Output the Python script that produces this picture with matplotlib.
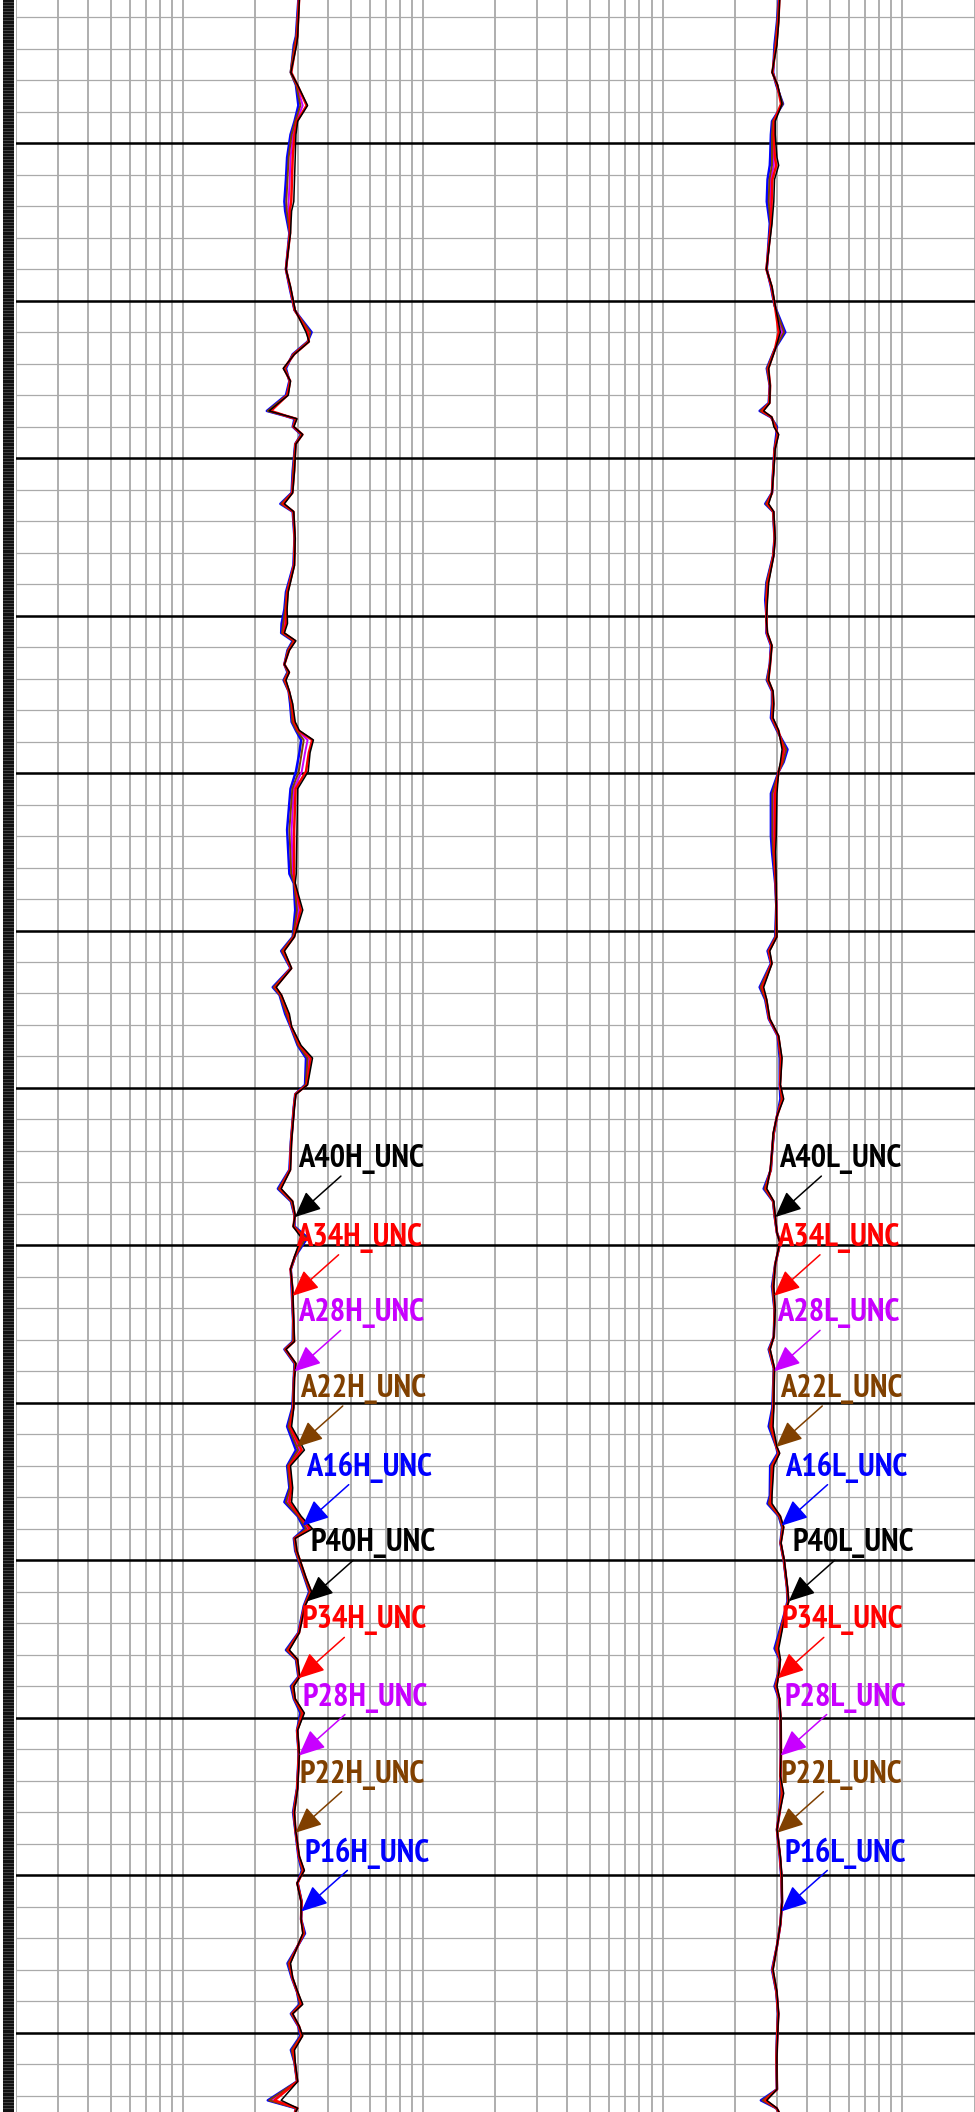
import numpy as np
import matplotlib.pyplot as plt
from matplotlib import font_manager as fm
from matplotlib.ticker import LogLocator, NullLocator

# Array induction resistivity (ohm.m) versus depth (m), two tracks: H and L
depth_h = [1490.9, 1493.2, 1493.75, 1495.5, 1496.3, 1497.6, 1498.6, 1499.45, 1500.9, 1502.3,
           1503.7, 1504.3, 1505.7, 1508.0, 1509.1, 1510.6, 1512.0, 1512.6, 1513.4, 1514.3,
           1515.1, 1516.0, 1517.0, 1517.3, 1517.5, 1518.0, 1518.5, 1519.1, 1520.8, 1522.2,
           1522.9, 1523.4, 1525.1, 1526.8, 1528.5, 1529.6, 1530.5, 1531.1, 1531.6, 1532.2,
           1533.1, 1533.6, 1534.1, 1534.8, 1535.6, 1536.75, 1537.3, 1537.9, 1538.7, 1539.9,
           1541.0, 1543.6, 1546.4, 1547.0, 1548.7, 1550.4, 1551.3, 1552.4, 1553.6, 1554.1,
           1555.3, 1556.1, 1557.3, 1558.1, 1559.8, 1560.4, 1561.2, 1563.4, 1565.2, 1566.4,
           1567.2, 1568.1, 1568.8, 1569.5, 1570.7, 1571.5, 1572.7, 1574.8, 1576.1, 1576.6,
           1577.5, 1578.4, 1580.3, 1581.5, 1583.0, 1584.0, 1585.4, 1586.3, 1587.2, 1588.0,
           1588.6, 1589.4, 1591.1, 1592.0, 1592.9, 1594.6, 1595.7, 1596.3, 1597.4, 1598.0,
           1598.8, 1599.7, 1600.8, 1602.3, 1604.5, 1606.0, 1607.1, 1608.8, 1609.7, 1610.5,
           1611.7, 1612.8, 1613.7, 1614.5, 1615.6, 1616.5, 1617.4, 1618.2, 1618.8, 1619.6,
           1620.2, 1621.1, 1621.9, 1623.1, 1624.3, 1624.8, 1625.0]

h40 = [3.05, 3.00, 2.97, 2.81, 3.00, 3.30, 3.00, 2.95, 2.93, 2.91,
       2.89, 2.83, 2.80, 2.68, 2.80, 2.93, 3.25, 3.35, 2.91, 2.61,
       2.80, 2.74, 2.28, 2.68, 2.98, 2.89, 3.15, 2.95, 2.91, 2.86,
       2.64, 2.89, 2.93, 2.91, 2.74, 2.71, 2.72, 2.64, 2.95, 2.77,
       2.64, 2.77, 2.68, 2.77, 2.86, 2.93, 3.05, 3.49, 3.38, 3.32,
       3.00, 2.98, 2.96, 2.93, 3.15, 2.91, 2.64, 2.83, 2.44, 2.57,
       2.77, 2.83, 3.10, 3.46, 3.30, 2.95, 2.91, 2.83, 2.80, 2.56,
       2.86, 2.93, 2.87, 3.10, 2.91, 2.80, 2.86, 2.89, 2.91, 2.68,
       2.95, 2.91, 2.89, 2.83, 3.20, 2.80, 2.86, 2.83, 3.10, 3.46,
       2.93, 2.98, 3.25, 3.43, 3.22, 3.05, 2.77, 3.00, 3.06, 2.89,
       2.93, 3.20, 3.00, 3.05, 3.00, 2.91, 2.94, 3.05, 3.20, 2.98,
       3.10, 3.10, 3.15, 3.00, 2.80, 2.86, 3.00, 3.15, 2.86, 3.05,
       3.15, 2.91, 2.93, 3.00, 2.56, 3.00, 2.95]
h34 = [3.04, 2.99, 2.95, 2.82, 2.99, 3.27, 2.98, 2.91, 2.86, 2.84,
       2.82, 2.78, 2.79, 2.68, 2.79, 2.92, 3.30, 3.34, 2.90, 2.63,
       2.79, 2.72, 2.32, 2.67, 2.96, 2.88, 3.14, 2.94, 2.90, 2.85,
       2.61, 2.88, 2.92, 2.90, 2.72, 2.69, 2.68, 2.62, 2.92, 2.76,
       2.64, 2.76, 2.66, 2.76, 2.84, 2.90, 3.02, 3.45, 3.34, 3.25,
       2.94, 2.90, 2.90, 2.92, 3.09, 2.90, 2.62, 2.82, 2.42, 2.56,
       2.74, 2.82, 3.07, 3.40, 3.28, 2.94, 2.90, 2.82, 2.79, 2.54,
       2.85, 2.92, 2.88, 3.16, 2.92, 2.80, 2.85, 2.88, 2.90, 2.67,
       2.94, 2.90, 2.88, 2.79, 3.12, 2.77, 2.83, 2.77, 3.07, 3.38,
       2.92, 2.97, 3.24, 3.41, 3.21, 3.04, 2.74, 2.99, 3.05, 2.87,
       2.92, 3.16, 2.99, 3.04, 2.99, 2.90, 2.94, 3.04, 3.18, 2.99,
       3.11, 3.10, 3.17, 3.00, 2.78, 2.85, 2.99, 3.12, 2.85, 3.04,
       3.13, 2.88, 2.92, 2.99, 2.40, 2.99, 2.94]
h28 = [3.03, 2.97, 2.93, 2.81, 2.97, 3.15, 2.96, 2.87, 2.80, 2.78,
       2.75, 2.74, 2.78, 2.68, 2.78, 2.92, 3.35, 3.32, 2.88, 2.65,
       2.78, 2.71, 2.27, 2.66, 2.94, 2.87, 3.12, 2.94, 2.88, 2.84,
       2.58, 2.87, 2.92, 2.89, 2.71, 2.67, 2.64, 2.60, 2.90, 2.74,
       2.64, 2.74, 2.65, 2.76, 2.82, 2.87, 3.00, 3.30, 3.22, 3.12,
       2.89, 2.83, 2.86, 2.91, 3.03, 2.88, 2.60, 2.81, 2.40, 2.54,
       2.71, 2.81, 3.05, 3.34, 3.26, 2.94, 2.90, 2.82, 2.78, 2.52,
       2.83, 2.92, 2.89, 3.21, 2.92, 2.81, 2.84, 2.88, 2.88, 2.66,
       2.93, 2.90, 2.87, 2.76, 3.06, 2.75, 2.81, 2.72, 3.05, 3.32,
       2.91, 2.95, 3.22, 3.39, 3.20, 3.03, 2.72, 2.97, 3.04, 2.85,
       2.91, 3.13, 2.99, 3.04, 2.99, 2.89, 2.93, 3.03, 3.16, 2.99,
       3.11, 3.10, 3.19, 3.00, 2.76, 2.84, 2.99, 3.10, 2.83, 3.03,
       3.11, 2.86, 2.92, 2.99, 2.32, 2.97, 2.94]
h22 = [3.03, 2.96, 2.91, 2.80, 2.96, 3.08, 2.93, 2.83, 2.75, 2.72,
       2.69, 2.70, 2.78, 2.68, 2.78, 2.91, 3.39, 3.31, 2.87, 2.66,
       2.78, 2.70, 2.25, 2.65, 2.93, 2.87, 3.11, 2.93, 2.87, 2.84,
       2.56, 2.87, 2.91, 2.89, 2.70, 2.66, 2.61, 2.58, 2.88, 2.73,
       2.64, 2.73, 2.63, 2.75, 2.81, 2.85, 2.97, 3.18, 3.12, 3.03,
       2.85, 2.77, 2.82, 2.90, 2.98, 2.87, 2.58, 2.81, 2.38, 2.53,
       2.69, 2.81, 3.02, 3.30, 3.24, 2.93, 2.89, 2.81, 2.78, 2.50,
       2.82, 2.91, 2.90, 3.25, 2.93, 2.81, 2.84, 2.87, 2.87, 2.65,
       2.92, 2.89, 2.86, 2.74, 3.01, 2.73, 2.79, 2.68, 3.02, 3.26,
       2.90, 2.94, 3.21, 3.37, 3.19, 3.03, 2.70, 2.96, 3.03, 2.83,
       2.90, 3.11, 2.98, 3.03, 2.98, 2.88, 2.93, 3.03, 3.14, 3.00,
       3.12, 3.10, 3.20, 3.00, 2.74, 2.84, 2.98, 3.07, 2.82, 3.03,
       3.10, 2.83, 2.91, 2.98, 2.28, 2.96, 2.93]
h16 = [3.02, 2.95, 2.89, 2.81, 2.95, 3.02, 2.91, 2.80, 2.71, 2.68,
       2.64, 2.66, 2.77, 2.68, 2.77, 2.91, 3.43, 3.30, 2.86, 2.68,
       2.77, 2.68, 2.23, 2.64, 2.91, 2.86, 3.10, 2.93, 2.86, 2.83,
       2.54, 2.86, 2.91, 2.88, 2.68, 2.64, 2.57, 2.56, 2.86, 2.72,
       2.64, 2.72, 2.62, 2.75, 2.79, 2.83, 2.95, 3.10, 3.05, 2.95,
       2.80, 2.71, 2.77, 2.89, 2.93, 2.86, 2.56, 2.80, 2.36, 2.52,
       2.66, 2.80, 3.00, 3.25, 3.22, 2.93, 2.89, 2.81, 2.77, 2.48,
       2.81, 2.91, 2.91, 3.30, 2.93, 2.81, 2.83, 2.87, 2.86, 2.64,
       2.91, 2.89, 2.85, 2.71, 2.95, 2.71, 2.77, 2.64, 3.00, 3.20,
       2.89, 2.93, 3.20, 3.35, 3.18, 3.02, 2.68, 2.95, 3.02, 2.81,
       2.89, 3.08, 2.98, 3.03, 2.98, 2.87, 2.93, 3.02, 3.12, 3.00,
       3.12, 3.10, 3.22, 3.00, 2.72, 2.83, 2.98, 3.05, 2.81, 3.02,
       3.08, 2.81, 2.91, 2.98, 2.25, 2.95, 2.93]

depth_l = [1490.9, 1492.3, 1493.75, 1495.5, 1496.3, 1497.5, 1498.6, 1499.45, 1500.9, 1501.4,
           1502.3, 1503.7, 1505.1, 1508.0, 1509.1, 1510.3, 1512.0, 1513.1, 1514.3, 1515.4,
           1516.5, 1517.0, 1517.4, 1518.0, 1518.5, 1519.4, 1520.8, 1522.2, 1522.9, 1523.4,
           1525.1, 1526.2, 1527.9, 1529.0, 1530.3, 1531.1, 1531.9, 1533.1, 1534.1, 1534.8,
           1535.6, 1536.5, 1537.3, 1538.5, 1539.3, 1539.9, 1541.3, 1544.0, 1545.0, 1547.0,
           1548.4, 1550.4, 1551.3, 1552.1, 1553.6, 1554.4, 1555.6, 1556.7, 1558.1, 1559.8,
           1560.7, 1561.8, 1562.9, 1564.1, 1565.2, 1566.4, 1567.2, 1568.1, 1569.2, 1569.8,
           1571.2, 1572.6, 1574.1, 1575.8, 1576.6, 1577.8, 1580.3, 1581.5, 1582.8, 1583.2,
           1584.0, 1585.9, 1586.4, 1587.2, 1587.9, 1588.9, 1590.0, 1591.7, 1592.6, 1593.4,
           1595.6, 1596.3, 1597.1, 1598.0, 1598.8, 1600.3, 1602.3, 1603.7, 1604.8, 1606.0,
           1607.1, 1608.8, 1610.2, 1611.7, 1613.1, 1614.5, 1616.0, 1617.4, 1618.8, 1620.2,
           1621.6, 1623.6, 1624.3, 1624.8, 1625.0]

l40 = [3.08, 3.05, 3.00, 2.86, 3.02, 3.15, 2.95, 2.95, 3.00, 3.05,
       2.93, 2.91, 2.86, 2.71, 2.86, 2.95, 3.10, 2.95, 2.77, 2.81,
       2.80, 2.64, 2.86, 2.91, 3.05, 2.95, 2.91, 2.86, 2.77, 2.91,
       2.95, 2.91, 2.77, 2.74, 2.71, 2.74, 2.86, 2.81, 2.77, 2.89,
       2.91, 2.89, 3.05, 3.15, 3.10, 3.05, 3.00, 2.98, 2.96, 2.98,
       2.98, 3.00, 2.80, 2.86, 2.64, 2.72, 2.80, 3.05, 3.15, 3.10,
       3.20, 3.00, 2.89, 2.86, 2.81, 2.72, 2.91, 2.95, 3.00, 3.08,
       2.95, 2.91, 2.95, 2.91, 2.81, 2.93, 2.91, 2.89, 3.00, 3.08,
       2.91, 2.86, 2.86, 3.10, 3.20, 3.12, 3.22, 3.32, 3.36, 3.25,
       3.05, 3.10, 3.06, 3.00, 3.08, 3.12, 3.12, 3.10, 3.20, 3.08,
       3.00, 3.10, 3.15, 3.15, 3.10, 3.00, 2.89, 3.00, 3.05, 3.02,
       3.00, 3.00, 2.72, 3.00, 3.05]
l34 = [3.07, 3.04, 2.98, 2.87, 3.01, 3.12, 2.92, 2.91, 2.94, 2.98,
       2.87, 2.85, 2.84, 2.71, 2.85, 2.94, 3.05, 2.94, 2.76, 2.81,
       2.79, 2.61, 2.85, 2.94, 3.03, 2.94, 2.90, 2.86, 2.74, 2.90,
       2.94, 2.90, 2.75, 2.72, 2.71, 2.73, 2.85, 2.81, 2.76, 2.88,
       2.90, 2.87, 3.04, 3.20, 3.13, 3.05, 2.95, 2.94, 2.93, 2.97,
       2.98, 2.99, 2.78, 2.85, 2.61, 2.71, 2.79, 3.04, 3.13, 3.09,
       3.17, 3.00, 2.90, 2.86, 2.82, 2.70, 2.90, 2.94, 3.00, 3.09,
       2.95, 2.90, 2.94, 2.91, 2.80, 2.92, 2.90, 2.85, 2.99, 3.06,
       2.88, 2.84, 2.82, 3.09, 3.19, 3.11, 3.21, 3.31, 3.35, 3.24,
       3.01, 3.09, 3.06, 2.98, 3.07, 3.11, 3.12, 3.10, 3.17, 3.08,
       3.00, 3.09, 3.14, 3.15, 3.10, 3.00, 2.88, 2.99, 3.04, 3.01,
       2.99, 3.00, 2.68, 2.99, 3.04]
l28 = [3.06, 3.02, 2.96, 2.88, 3.00, 3.15, 2.90, 2.88, 2.90, 2.91,
       2.83, 2.81, 2.83, 2.72, 2.84, 2.94, 3.16, 2.94, 2.74, 2.80,
       2.78, 2.58, 2.84, 2.96, 3.01, 2.94, 2.90, 2.86, 2.72, 2.90,
       2.94, 2.90, 2.74, 2.71, 2.72, 2.72, 2.84, 2.80, 2.74, 2.87,
       2.88, 2.86, 3.02, 3.24, 3.16, 3.05, 2.91, 2.90, 2.91, 2.96,
       2.98, 2.97, 2.77, 2.84, 2.58, 2.70, 2.78, 3.03, 3.11, 3.09,
       3.14, 3.00, 2.90, 2.86, 2.82, 2.68, 2.90, 2.94, 3.00, 3.09,
       2.95, 2.88, 2.94, 2.91, 2.79, 2.92, 2.89, 2.82, 2.99, 3.05,
       2.86, 2.83, 2.79, 3.07, 3.17, 3.11, 3.21, 3.31, 3.34, 3.23,
       2.98, 3.09, 3.05, 2.96, 3.07, 3.11, 3.11, 3.10, 3.14, 3.07,
       3.00, 3.09, 3.14, 3.15, 3.10, 3.00, 2.87, 2.99, 3.04, 3.01,
       2.99, 3.00, 2.64, 2.99, 3.04]
l22 = [3.06, 3.01, 2.95, 2.88, 2.99, 3.17, 2.88, 2.86, 2.86, 2.86,
       2.79, 2.77, 2.82, 2.72, 2.84, 2.93, 3.21, 2.93, 2.73, 2.80,
       2.78, 2.56, 2.84, 2.98, 3.00, 2.93, 2.89, 2.86, 2.70, 2.89,
       2.93, 2.89, 2.72, 2.70, 2.72, 2.72, 2.84, 2.80, 2.73, 2.87,
       2.87, 2.85, 3.01, 3.28, 3.18, 3.05, 2.87, 2.87, 2.89, 2.96,
       2.98, 2.96, 2.76, 2.84, 2.56, 2.69, 2.78, 3.03, 3.10, 3.09,
       3.13, 3.00, 2.91, 2.86, 2.83, 2.66, 2.89, 2.93, 3.00, 3.10,
       2.95, 2.87, 2.93, 2.91, 2.78, 2.91, 2.88, 2.80, 2.98, 3.04,
       2.84, 2.82, 2.77, 3.06, 3.16, 3.10, 3.20, 3.30, 3.33, 3.23,
       2.96, 3.09, 3.05, 2.95, 3.07, 3.11, 3.11, 3.10, 3.13, 3.07,
       3.00, 3.09, 3.13, 3.15, 3.10, 3.00, 2.87, 2.98, 3.03, 3.00,
       2.98, 3.00, 2.61, 2.98, 3.03]
l16 = [3.05, 3.00, 2.93, 2.89, 2.98, 3.18, 2.86, 2.83, 2.81, 2.80,
       2.74, 2.72, 2.80, 2.72, 2.83, 2.93, 3.25, 2.93, 2.72, 2.80,
       2.77, 2.54, 2.83, 3.00, 2.98, 2.93, 2.89, 2.86, 2.68, 2.89,
       2.93, 2.89, 2.71, 2.68, 2.72, 2.71, 2.83, 2.80, 2.72, 2.86,
       2.86, 2.83, 3.00, 3.32, 3.20, 3.05, 2.83, 2.83, 2.86, 2.95,
       2.98, 2.95, 2.74, 2.83, 2.54, 2.68, 2.77, 3.02, 3.08, 3.08,
       3.10, 3.00, 2.91, 2.86, 2.83, 2.64, 2.89, 2.93, 3.00, 3.10,
       2.95, 2.86, 2.93, 2.91, 2.77, 2.91, 2.87, 2.77, 2.98, 3.02,
       2.81, 2.80, 2.74, 3.05, 3.15, 3.10, 3.20, 3.30, 3.32, 3.22,
       2.93, 3.08, 3.05, 2.93, 3.06, 3.10, 3.11, 3.10, 3.10, 3.07,
       3.00, 3.08, 3.13, 3.15, 3.10, 3.00, 2.86, 2.98, 3.03, 3.00,
       2.98, 3.00, 2.57, 2.98, 3.03]

# curve names, colours and the depth each label's arrow points at
spacings = ['40', '34', '28', '22', '16']
colors = ['#000000', '#ff0000', '#c800ff', '#804000', '#0000ff']
label_depths = [1568.2, 1573.2, 1578.0, 1582.8, 1587.8,
                1592.6, 1597.5, 1602.4, 1607.3, 1612.3]

top, bottom = 1490.9, 1625.04
xmin, xmax = 0.2, 20.0


def label_font():
    # prefer a narrow / condensed bold sans, DejaVu only as a last resort
    entries = fm.fontManager.ttflist

    def weight(f):
        try:
            return int(f.weight)
        except ValueError:
            return 700 if 'bold' in str(f.weight) else 400

    def rank(f):
        name = f.name
        if 'Narrow' in name:
            r = 0
        elif name.startswith(('Roboto', 'Noto Sans', 'Liberation', 'Open Sans', 'Arimo')):
            r = 1
        elif name.startswith('DejaVu'):
            r = 3
        else:
            r = 2
        return (r, abs(weight(f) - 700), 0 if str(f.stretch) == 'condensed' else 1)

    cands = [f for f in entries
             if f.style == 'normal' and weight(f) >= 600
             and ('Narrow' in f.name or 'Condensed' in f.name or 'condensed' in str(f.stretch))
             and 'Mono' not in f.name and 'Serif' not in f.name and 'CJK' not in f.name]
    if cands:
        return fm.FontProperties(fname=sorted(cands, key=rank)[0].fname, size=20)
    return fm.FontProperties(family='Liberation Sans', weight='bold', size=20)


label_prop = label_font()

W, H = 975, 2112
fig = plt.figure(figsize=(W / 100, H / 100), dpi=100)
fig.patch.set_facecolor('white')

# size the labels so that one of them spans about 125 px
probe = fig.text(0, 0, 'A40H_UNC', fontproperties=label_prop)
probe_w = probe.get_window_extent(fig.canvas.get_renderer()).width
probe.remove()
label_prop.set_size(20 * 125 / probe_w)

# narrow depth strip on the far left
ax_d = fig.add_axes([3 / W, 0, 11 / W, 1])
ax_d.set_ylim(bottom, top)
ax_d.set_xlim(0, 1)
ax_d.add_patch(plt.Rectangle((0, bottom), 1, top - bottom, color='#111111', zorder=0))
for d in np.arange(1491.0, 1625.0, 0.2):
    ax_d.axhline(d, color='#5a5a5a', lw=0.5)
ax_d.axis('off')


def draw_track(ax, depth, curves, suffix):
    ax.set_xscale('log')
    ax.set_xlim(xmin, xmax)
    ax.set_ylim(bottom, top)
    ax.xaxis.set_major_locator(LogLocator(base=10, subs=np.arange(1, 10), numticks=50))
    ax.xaxis.set_minor_locator(NullLocator())
    ax.set_yticks(np.arange(1492, 1626, 2))
    ax.grid(True, axis='x', color='#999999', lw=1.1)
    ax.grid(True, axis='y', color='#aaaaaa', lw=0.9)
    for d in np.arange(1500, 1625, 10):
        ax.axhline(d, color='black', lw=1.8, zorder=1.5)
    ax.set_axisbelow(True)
    ax.tick_params(which='both', length=0, labelbottom=False, labelleft=False)
    for s in ax.spines.values():
        s.set_visible(False)

    # blue underneath, red under a thinner black
    widths = [1.1, 1.8, 1.4, 1.4, 1.8]
    for i in [4, 2, 3, 1, 0]:
        ax.plot(curves[i], depth, color=colors[i], lw=widths[i], zorder=3)

    names = ['A' + s + suffix + '_UNC' for s in spacings] + ['P' + s + suffix + '_UNC' for s in spacings]
    for k, (name, d) in enumerate(zip(names, label_depths)):
        i = k % 5
        v = np.interp(d, depth, curves[i])
        ax.annotate('', xy=(v, d), xytext=(46, 41), textcoords='offset pixels',
                    arrowprops=dict(arrowstyle='-|>,head_length=0.8,head_width=0.36',
                                    mutation_scale=20, lw=1.1, color=colors[i],
                                    shrinkA=0, shrinkB=0), zorder=5)
        ax.annotate(name, xy=(v, d), xytext=(3.5, 58), textcoords='offset pixels',
                    ha='left', va='center', fontproperties=label_prop,
                    color=colors[i], zorder=6, annotation_clip=False)


ax_h = fig.add_axes([16 / W, 0, 479 / W, 1])
draw_track(ax_h, depth_h, [h40, h34, h28, h22, h16], 'H')

ax_l = fig.add_axes([495 / W, 0, 479.5 / W, 1])
draw_track(ax_l, depth_l, [l40, l34, l28, l22, l16], 'L')

fig.savefig('out.png', dpi=100, facecolor='white')
